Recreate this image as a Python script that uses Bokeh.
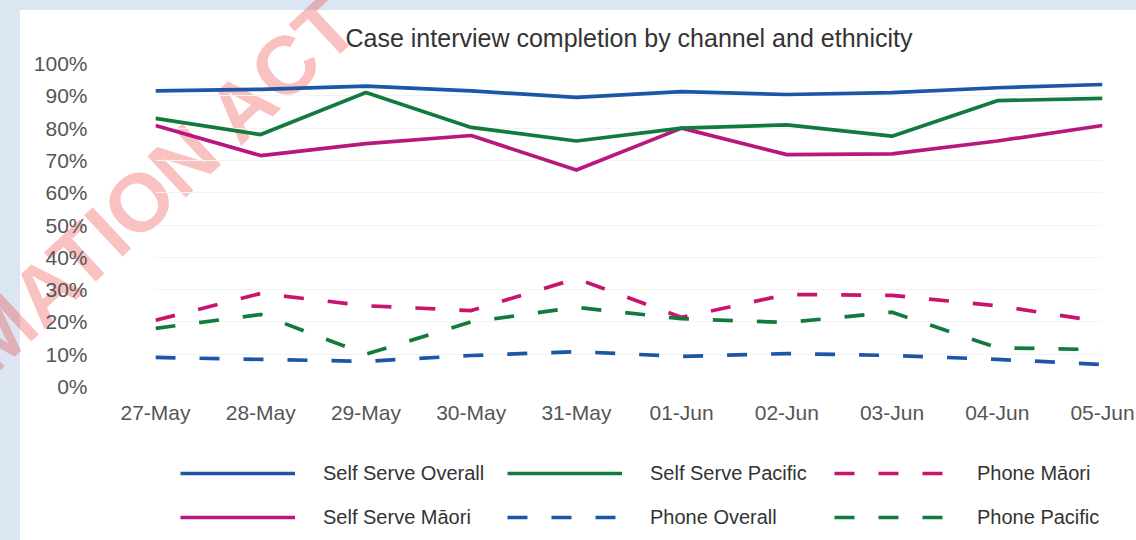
from bokeh.plotting import figure
from bokeh.models import (Range1d, FixedTicker, Legend, LegendItem, Div,
                          PrintfTickFormatter)
from bokeh.layouts import column
from bokeh.embed import file_html
from bokeh.resources import INLINE

# ---- data ----
dates = ["27-May", "28-May", "29-May", "30-May", "31-May",
         "01-Jun", "02-Jun", "03-Jun", "04-Jun", "05-Jun"]
self_serve_overall = [91.5, 92.0, 93.0, 91.5, 89.5, 91.3, 90.4, 91.0, 92.5, 93.5]
self_serve_maori = [80.8, 71.5, 75.2, 77.7, 67.0, 80.0, 71.8, 72.0, 76.0, 80.8]
self_serve_pacific = [83.0, 78.0, 91.0, 80.2, 76.0, 80.0, 81.0, 77.5, 88.5, 89.2]
phone_overall = [9.0, 8.4, 7.8, 9.6, 10.8, 9.3, 10.2, 9.6, 8.4, 6.8]
phone_maori = [20.5, 28.8, 25.0, 23.5, 33.4, 21.4, 28.5, 28.2, 25.0, 20.0]
phone_pacific = [18.0, 22.3, 10.0, 20.0, 24.5, 21.0, 19.8, 23.0, 12.0, 11.4]
y_ticks = [0, 10, 20, 30, 40, 50, 60, 70, 80, 90, 100]

series = [
    ("Self Serve Overall", self_serve_overall, "#1c56a6", "solid"),
    ("Self Serve Māori", self_serve_maori, "#b8177f", "solid"),
    ("Self Serve Pacific", self_serve_pacific, "#137a3e", "solid"),
    ("Phone Overall", phone_overall, "#1c56a6", "20 24"),
    ("Phone Māori", phone_maori, "#c8146e", "20 24"),
    ("Phone Pacific", phone_pacific, "#137a3e", "20 24"),
]

FONT = "Liberation Sans"
xs = list(range(len(dates)))
W = 1116

# ---------------- main chart ----------------
p = figure(width=W, height=430, output_backend="svg", toolbar_location=None,
           x_range=Range1d(0, len(dates) - 1), y_range=Range1d(0, 100),
           min_border_left=135, min_border_right=34, min_border_top=53,
           min_border_bottom=54)
p.outline_line_color = None
p.background_fill_color = None
p.border_fill_color = None

p.title.text = "Case interview completion by channel and ethnicity"
p.title.align = "center"
p.title.text_font = FONT
p.title.text_font_size = "25px"
p.title.text_font_style = "normal"
p.title.text_color = "#333333"
p.title.standoff = 23

for name, vals, color, dash in series:
    p.line(xs, vals, line_color=color, line_width=3.7, line_dash=dash,
           line_cap="butt", line_join="round")

p.xaxis.ticker = FixedTicker(ticks=xs)
p.xaxis.major_label_overrides = {i: d for i, d in enumerate(dates)}
p.yaxis.ticker = FixedTicker(ticks=y_ticks)
p.yaxis.formatter = PrintfTickFormatter(format="%d%%")
for ax in (p.xaxis, p.yaxis):
    ax.axis_line_color = None
    ax.major_tick_line_color = None
    ax.minor_tick_line_color = None
    ax.major_label_text_font = FONT
    ax.major_label_text_font_size = "21px"
    ax.major_label_text_color = "#555555"
p.yaxis.major_label_standoff = 62
p.xaxis.major_label_standoff = 8
p.xgrid.grid_line_color = None
p.ygrid.grid_line_color = "#f3f3f3"

# ---------------- legend strip ----------------
lg = figure(width=W, height=100, output_backend="svg", toolbar_location=None,
            x_range=Range1d(0, 1), y_range=Range1d(1000, 1001),
            x_axis_location=None, y_axis_location=None,
            min_border=0, min_border_left=0, min_border_right=0,
            min_border_top=0, min_border_bottom=0)
lg.outline_line_color = None
lg.grid.visible = False
lg.background_fill_color = None
lg.border_fill_color = None

items = []
for name, vals, color, dash in series:
    r = lg.line(xs, vals, line_color=color, line_width=3.7, line_dash=dash,
                line_cap="butt")
    items.append(LegendItem(label=name, renderers=[r]))

legend = Legend(items=items, orientation="vertical", nrows=2,
                location=(25, 10), glyph_width=115, glyph_height=26,
                label_standoff=28, label_width=166, spacing=18, padding=0,
                margin=0, border_line_alpha=0, background_fill_alpha=0,
                label_text_font=FONT, label_text_font_size="20px",
                label_text_color="#333333")
lg.add_layout(legend, "center")

# ---------------- watermark of the scanned document ----------------
wm_html = (
    '<div style="position:relative;width:0;height:0;">'
    '<span style="position:absolute;right:0;bottom:0;white-space:nowrap;'
    "font-family:'Liberation Sans',Arial,sans-serif;font-weight:bold;"
    'font-size:82px;line-height:1;color:rgba(238,34,34,0.28);'
    'transform-origin:100% 100%;transform:rotate(-43deg);">'
    'INFORMATION ACT</span></div>'
)
wm = Div(text=wm_html, width=1, height=1,
         styles={"position": "absolute", "left": "347px", "top": "15px",
                 "overflow": "visible", "pointer-events": "none",
                 "z-index": "-1"})

inner = column(p, lg, spacing=0)
layout = column(inner, wm, spacing=0,
                styles={"background-color": "white",
                        "border-left": "20px solid #dce6f2",
                        "border-top": "10px solid #dce6f2",
                        "position": "relative", "z-index": "0"})

open("out.html", "w").write(file_html(layout, INLINE))
